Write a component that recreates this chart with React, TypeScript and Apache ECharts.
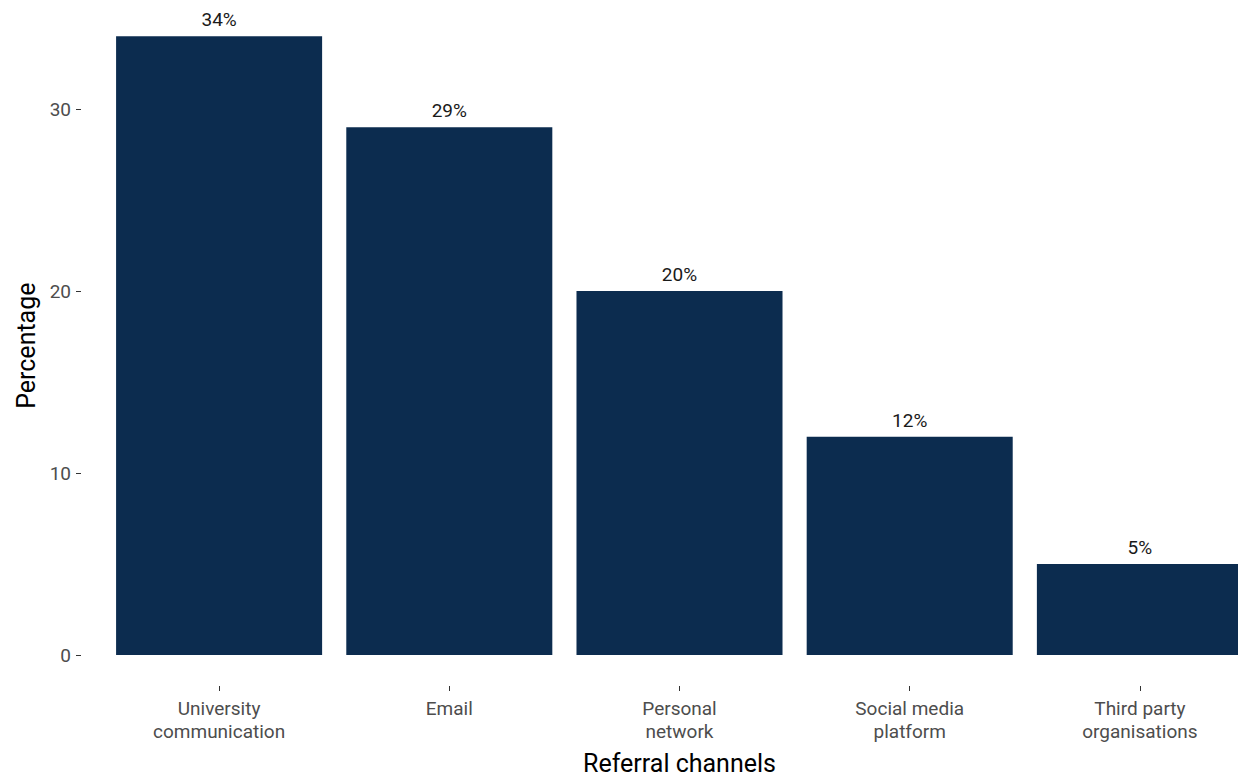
import React, { useEffect, useRef } from "react";
import * as echarts from "echarts";

const categories: string[] = [
  "University\ncommunication",
  "Email",
  "Personal\nnetwork",
  "Social media\nplatform",
  "Third party\norganisations",
];
const percentages: number[] = [34, 29, 20, 12, 5];
const yTicks: number[] = [0, 10, 20, 30];

const FONT = "Roboto, 'Noto Sans', sans-serif";

export default function App() {
  const ref = useRef<HTMLDivElement>(null);
  useEffect(() => {
    if (!ref.current) return;
    const chart = echarts.init(ref.current, null, { renderer: "svg" });
    chart.setOption({
      animation: false,
      backgroundColor: "#ffffff",
      textStyle: { fontFamily: FONT },
      grid: {
        left: 104,
        top: 5.3,
        width: 1151,
        height: 680.7,
        containLabel: false,
        outerBoundsMode: "none",
      },
      xAxis: {
        type: "category",
        data: categories,
        axisLine: { show: false, onZero: false },
        axisTick: { show: true, alignWithLabel: true, length: 5, lineStyle: { color: "#333333", width: 1 } },
        axisLabel: {
          color: "#4d4d4d",
          fontSize: 19,
          fontFamily: FONT,
          margin: 11,
          lineHeight: 23,
          interval: 0,
        },
        name: "Referral channels",
        nameLocation: "middle",
        nameGap: 66,
        nameTextStyle: { color: "#000000", fontSize: 25, lineHeight: 22, fontFamily: FONT },
        splitLine: { show: false },
      },
      yAxis: {
        type: "value",
        min: -1.7,
        max: 35.7,
        offset: 23,
        axisLine: { show: false },
        axisTick: { show: true, length: 5, customValues: yTicks, lineStyle: { color: "#333333", width: 1 } },
        axisLabel: {
          color: "#4d4d4d",
          fontSize: 19,
          fontFamily: FONT,
          margin: 10,
          customValues: yTicks,
        },
        splitLine: { show: false },
        name: "Percentage",
        nameLocation: "middle",
        nameGap: 41,
        nameTextStyle: { color: "#000000", fontSize: 25, fontFamily: FONT },
      },
      series: [
        {
          type: "bar",
          data: percentages,
          barWidth: "89.5%",
          itemStyle: { color: "#0c2c4f" },
          label: {
            show: true,
            position: "top",
            distance: 7,
            formatter: "{c}%",
            color: "#1a1a1a",
            fontSize: 19,
            fontFamily: FONT,
          },
        },
      ],
    });
    return () => chart.dispose();
  }, []);
  return (
    <div style={{ position: "fixed", left: 0, top: 0, width: 1238, height: 776, overflow: "hidden", background: "#fff" }}>
      <div ref={ref} style={{ width: 1300, height: 776 }} />
    </div>
  );
}
